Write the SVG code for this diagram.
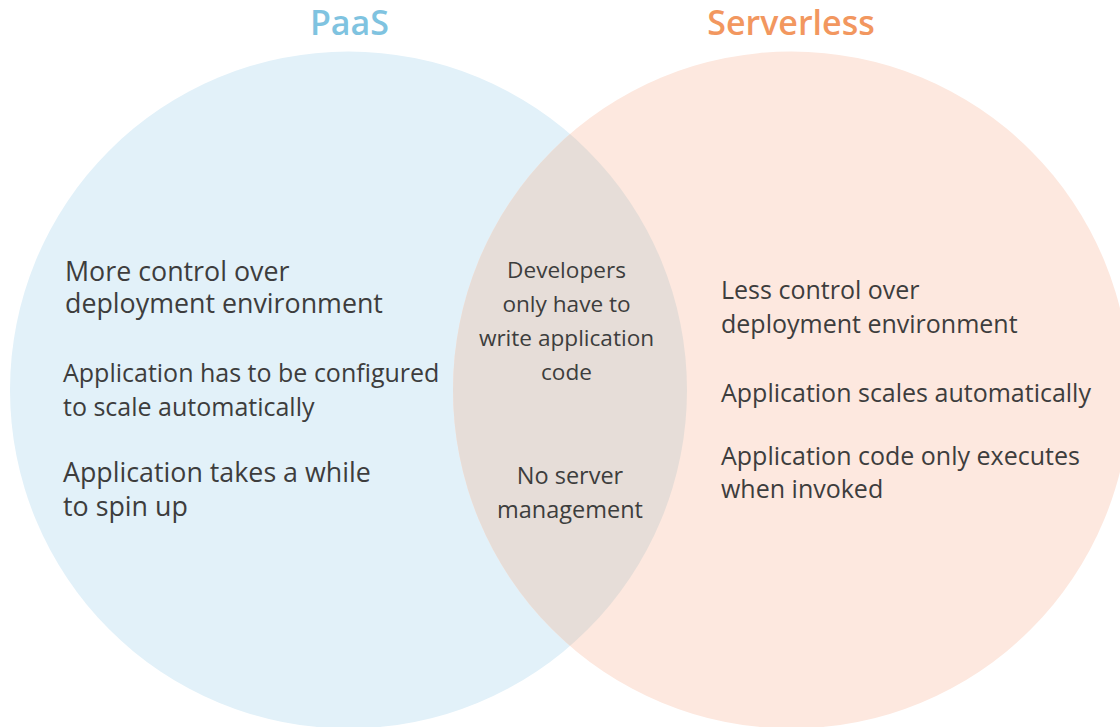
<svg xmlns="http://www.w3.org/2000/svg" width="1120" height="727" viewBox="0 0 1120 727">
<style>
.t{font-family:"Open Sans","Noto Sans","Liberation Sans",sans-serif;fill:#3d3d3d;font-size:25px}
.b{font-size:26.8px}
.c{font-family:"Open Sans","Noto Sans","Liberation Sans",sans-serif;fill:#3d3d3d;font-size:22.6px;text-anchor:middle}
.h{font-family:"Open Sans","Noto Sans","Liberation Sans",sans-serif;font-size:34px;font-weight:600;text-anchor:middle}
</style>
<defs>
<clipPath id="clipL"><circle cx="348.5" cy="390" r="338.5"/></clipPath>
</defs>
<rect width="1120" height="727" fill="#ffffff"/>
<g id="paas">
<circle cx="348.5" cy="390" r="338.5" fill="#e2f1f9"/>
<text class="h" x="349.5" y="35" fill="#7fc3e0">PaaS</text>
<text class="t b" x="65" y="281">More control over</text>
<text class="t b" x="65" y="313">deployment environment</text>
<text class="t" x="63" y="382">Application has to be configured</text>
<text class="t" x="63" y="416">to scale automatically</text>
<text class="t b" x="63" y="482">Application takes a while</text>
<text class="t b" x="63" y="516">to spin up</text>
</g>
<g id="serverless">
<circle cx="791.5" cy="390" r="338.5" fill="#fde8df"/>
<text class="h" x="791" y="35" fill="#f2975f">Serverless</text>
<text class="t" x="721" y="299">Less control over</text>
<text class="t" x="721" y="333">deployment environment</text>
<text class="t" x="721" y="402">Application scales automatically</text>
<text class="t" x="721" y="465">Application code only executes</text>
<text class="t" x="721" y="498">when invoked</text>
</g>
<g id="overlap">
<circle cx="791.5" cy="390" r="338.5" fill="#e6ddd8" clip-path="url(#clipL)"/>
<text class="c" x="566.5" y="278">Developers</text>
<text class="c" x="566.5" y="312">only have to</text>
<text class="c" x="566.5" y="346">write application</text>
<text class="c" x="566.5" y="380">code</text>
<text class="c" x="570" y="484" style="font-size:23.5px">No server</text>
<text class="c" x="570" y="518" style="font-size:23.5px">management</text>
</g>
<g id="connectors"></g>
</svg>
